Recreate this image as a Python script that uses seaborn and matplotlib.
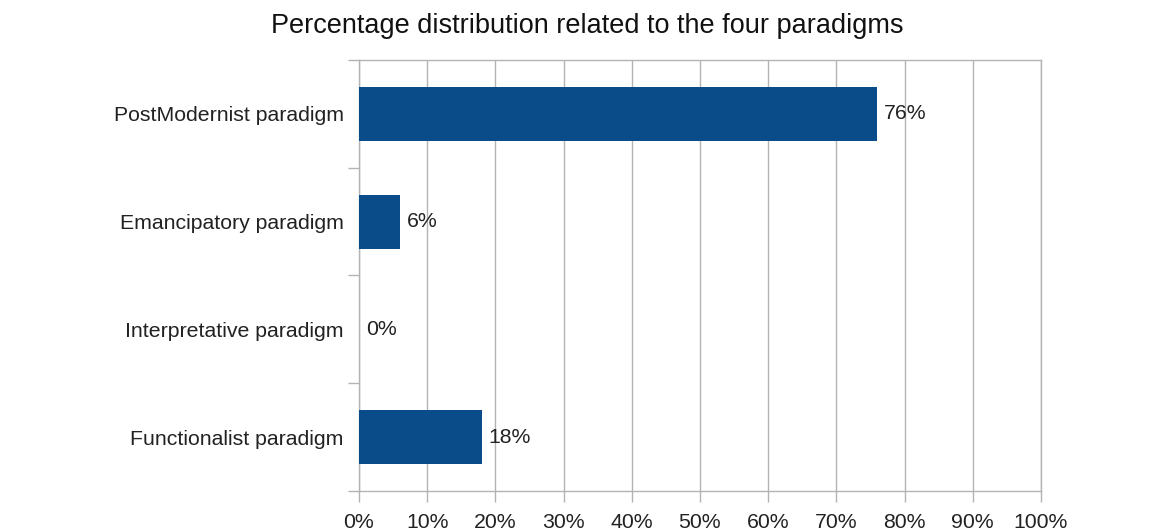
import matplotlib
matplotlib.use("Agg")
import matplotlib.pyplot as plt
import seaborn as sns
import pandas as pd

# Survey results by paradigm (percent of responses)
paradigms = ["PostModernist paradigm", "Emancipatory paradigm",
             "Interpretative paradigm", "Functionalist paradigm"]
shares = [76, 6, 0, 18]
x_ticks = [0, 10, 20, 30, 40, 50, 60, 70, 80, 90, 100]

df = pd.DataFrame({"paradigm": paradigms, "share": shares})

sns.set_theme(style="white")
plt.rcParams["font.family"] = ["Liberation Sans", "DejaVu Sans"]

fig = plt.figure(figsize=(11.61, 5.30), dpi=100)
ax = fig.add_axes([0.3092, 0.0736, 0.5874, 0.8132])

sns.barplot(data=df, x="share", y="paradigm", orient="h", color="#0a4b8a",
            saturation=1, width=0.5, linewidth=0, ax=ax, zorder=3)

ax.set_xlim(0, 100)
ax.set_ylim(3.5, -0.5)
ax.set_xticks(x_ticks)
ax.set_xticklabels([f"{v}%" for v in x_ticks], fontsize=15.3, color="#222222")
ax.set_yticks(range(len(paradigms)))
ax.set_yticklabels(paradigms, fontsize=15.3, color="#222222")
# category separators drawn as short ticks on the left edge
ax.set_yticks([-0.5, 0.5, 1.5, 2.5, 3.5], minor=True)
ax.tick_params(axis="y", which="major", length=0, pad=11)
ax.tick_params(axis="y", which="minor", length=8, width=1, color="#b3b3b3", left=True)
ax.tick_params(axis="x", which="major", length=8, width=1, color="#b3b3b3",
               bottom=True, pad=8)

ax.grid(axis="x", color="#b3b3b3", linewidth=1, zorder=0)
ax.set_axisbelow(True)
for side in ["left", "bottom", "top", "right"]:
    ax.spines[side].set_color("#b3b3b3")
    ax.spines[side].set_linewidth(1)

for i, v in enumerate(shares):
    ax.text(v + 1.0, i, f"{v}%", va="center", ha="left", fontsize=15.3, color="#222222")

ax.set_xlabel("")
ax.set_ylabel("")
fig.suptitle("Percentage distribution related to the four paradigms",
             fontsize=19.5, color="#111111", x=0.506, y=0.975)

fig.savefig("out.png", dpi=100, facecolor="white")
